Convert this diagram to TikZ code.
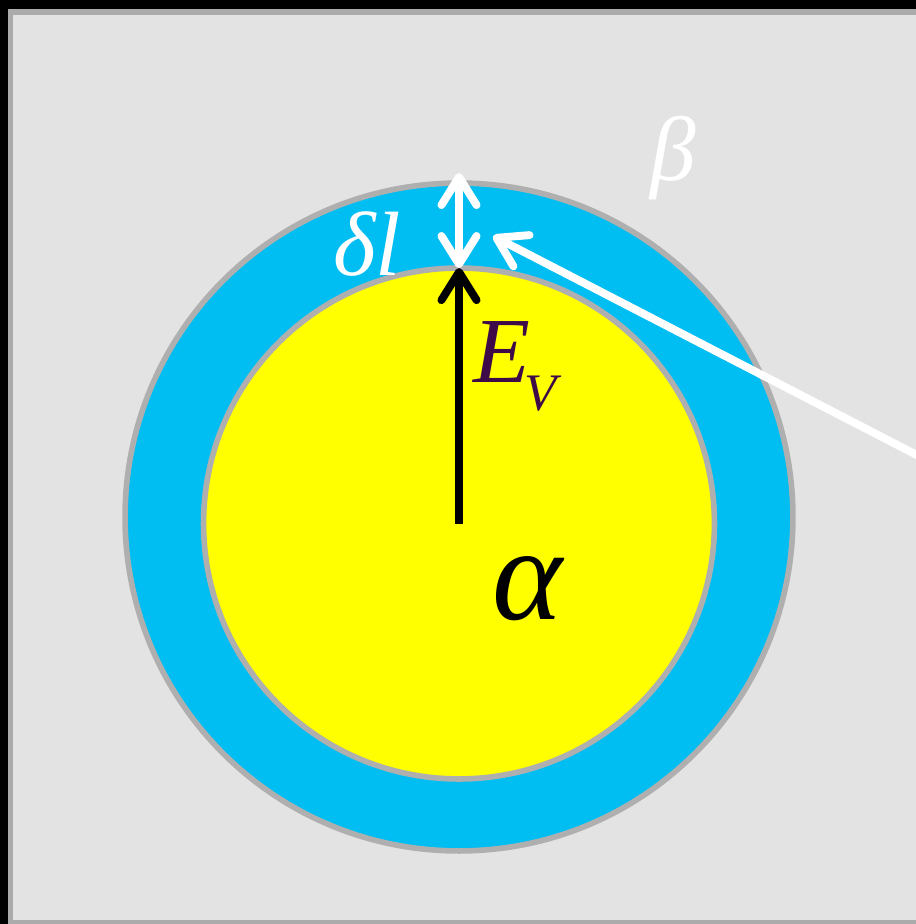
\documentclass[tikz,border=0pt]{standalone}
\usepackage{fontspec}
\setmainfont{Liberation Serif}
\usetikzlibrary{arrows.meta}

\definecolor{bggray}{HTML}{E3E3E3}
\definecolor{edgegray}{HTML}{ABABAB}
\definecolor{ringgray}{HTML}{AFAFAF}
\definecolor{shell}{HTML}{00BEF2}
\definecolor{core}{HTML}{FFFF00}
\definecolor{field}{HTML}{3F0A48}

\begin{document}
\begin{tikzpicture}[
  x=0.02cm, y=-0.02cm,
  phase/.style={circle, draw=ringgray, line width=3.2pt, inner sep=0pt,
    outer sep=0pt},
  lbl/.style={inner sep=0pt, font=\itshape},
  blk/.style={-{Straight Barb[length=16pt, width=20pt, round]},
    line width=4.5pt, black},
  wht/.style={line width=4.5pt, white}
]
\useasboundingbox (0,0) rectangle (916,924);
\clip (0,0) rectangle (916,924);

% ── The frame ─────────────────────────────────────────────────────────────
\fill[black] (0,0) rectangle (916,924);
\draw[fill=bggray, draw=edgegray, line width=3pt] (10.5,12) rectangle (960,922.5);

% ── The two phases ────────────────────────────────────────────────────────
\node[phase, fill=shell, minimum size=13.36cm] (outer) at (459,517) {};
\node[phase, fill=core, minimum size=10.22cm] (inner) at (459,523.5) {};

% ── Field arrow from the centre ───────────────────────────────────────────
\draw[blk] (inner.center) -- (inner.north);
\node[lbl, text=field, anchor=base west, font=\fontsize{53}{56}\selectfont\itshape]
  (ev) at (473,382) {E\kern-3pt\raisebox{-16pt}{\fontsize{30}{32}\selectfont V}};

% ── Shell thickness ───────────────────────────────────────────────────────
\coordinate (dltop) at (459,173);
\draw[wht, {Straight Barb[length=16pt, width=20pt, round]}-{Straight Barb[length=16pt, width=20pt, round]}]
  (inner.north) -- (dltop);
\node[lbl, text=white, anchor=base west, font=\fontsize{52}{56}\selectfont\itshape]
  (dl) at (333,275) {δl};

% ── Pointer from the outside ──────────────────────────────────────────────
\coordinate (far) at (940,467);
\coordinate (aim) at (493,236);
\draw[wht, -{Straight Barb[length=16pt, width=20pt, round]}] (far) -- (aim);

% ── Phase labels ──────────────────────────────────────────────────────────
\node[lbl, text=white, font=\fontsize{52}{56}\selectfont\itshape] (beta) at (673,158) {β};
\node[lbl, text=black, font=\fontsize{76}{80}\selectfont\itshape] (alpha) at (528,589) {α};

\end{tikzpicture}
\end{document}
